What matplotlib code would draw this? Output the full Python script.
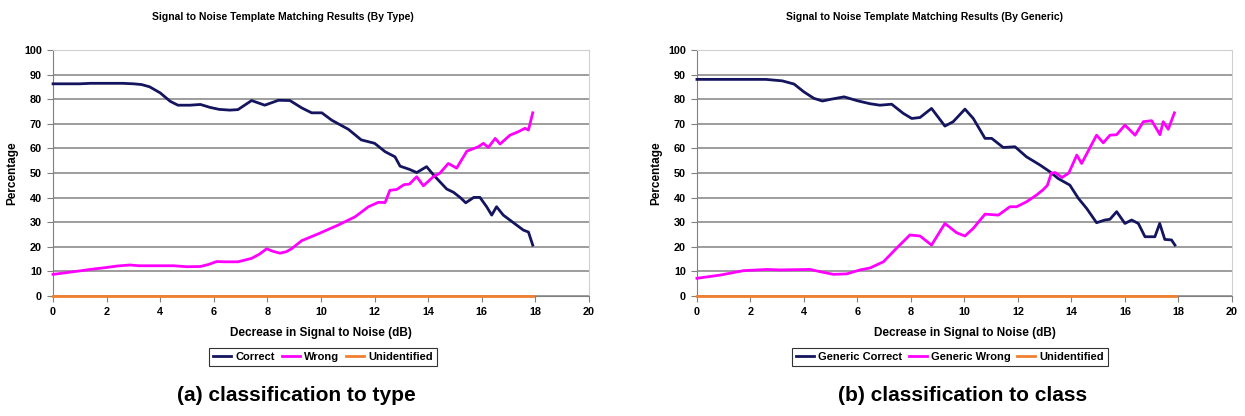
import matplotlib
matplotlib.use("Agg")
import matplotlib.pyplot as plt

plt.rcParams['font.family'] = ['Liberation Sans', 'DejaVu Sans']
plt.rcParams['font.weight'] = 'bold'

# SNR template matching, classification by type
type_correct_x = [0, 0.5, 1.0, 1.4, 2.0, 2.6, 3.0, 3.3, 3.6, 4.0, 4.37, 4.66, 5.1, 5.5,
                  5.86, 6.2, 6.6, 6.9, 7.41, 7.9, 8.41, 8.84, 9.28, 9.65, 10.03, 10.4,
                  11.02, 11.5, 12.0, 12.39, 12.76, 12.95, 13.3, 13.57, 13.94, 14.2,
                  14.69, 14.94, 15.2, 15.4, 15.7, 15.93, 16.18, 16.37, 16.55, 16.8,
                  17.18, 17.55, 17.74, 17.9]
type_correct_y = [86.3, 86.3, 86.3, 86.5, 86.5, 86.5, 86.3, 86.0, 85.1, 82.6, 79.2, 77.6,
                  77.6, 77.9, 76.7, 75.9, 75.6, 75.8, 79.5, 77.6, 79.6, 79.5, 76.5, 74.5,
                  74.5, 71.5, 67.8, 63.5, 62.1, 58.7, 56.6, 52.8, 51.5, 50.2, 52.6, 49.2,
                  43.5, 42.2, 40.0, 37.9, 40.1, 40.1, 36.3, 32.9, 36.3, 32.9, 29.8, 26.8,
                  26.0, 20.7]
type_wrong_x = [0, 0.3, 0.63, 1.0, 1.38, 2.0, 2.4, 2.87, 3.2, 3.6, 4.49, 4.99, 5.5, 5.8,
                6.1, 6.42, 6.9, 7.41, 7.7, 7.97, 8.2, 8.47, 8.7, 8.9, 9.28, 9.9, 10.65,
                11.27, 11.77, 12.14, 12.39, 12.57, 12.82, 13.1, 13.3, 13.57, 13.82, 14.19,
                14.44, 14.75, 15.06, 15.44, 15.87, 16.06, 16.24, 16.5, 16.68, 17.05,
                17.36, 17.61, 17.74, 17.9]
type_wrong_y = [8.8, 9.2, 9.7, 10.2, 10.8, 11.6, 12.2, 12.6, 12.3, 12.3, 12.3, 11.9, 12.0,
                12.8, 14.0, 13.9, 13.9, 15.3, 17.0, 19.2, 18.2, 17.4, 18.0, 19.2, 22.5,
                25.3, 28.9, 32.2, 36.3, 38.1, 38.0, 43.0, 43.3, 45.3, 45.5, 48.5, 44.8,
                48.5, 50.0, 53.9, 52.0, 58.9, 60.7, 62.1, 60.4, 64.1, 61.8, 65.4, 66.8,
                68.2, 67.5, 74.5]

# SNR template matching, classification by generic class
gen_correct_x = [0, 1.0, 2.0, 2.57, 3.19, 3.63, 4.0, 4.37, 4.69, 5.0, 5.5, 6.0, 6.47, 6.84,
                 7.28, 7.71, 8.03, 8.34, 8.77, 9.27, 9.58, 10.02, 10.33, 10.77, 11.02,
                 11.45, 11.89, 12.32, 12.82, 13.2, 13.5, 13.94, 14.26, 14.57, 14.94, 15.25,
                 15.44, 15.69, 16.0, 16.25, 16.5, 16.75, 17.12, 17.3, 17.49, 17.74, 17.87]
gen_correct_y = [88.1, 88.1, 88.1, 88.1, 87.5, 86.2, 83.0, 80.4, 79.3, 80.0, 81.0, 79.4,
                 78.2, 77.6, 78.0, 74.3, 72.2, 72.6, 76.3, 69.1, 70.9, 76.0, 72.2, 64.1,
                 64.1, 60.4, 60.7, 56.6, 53.3, 50.5, 47.8, 45.1, 39.7, 35.6, 29.8, 30.9,
                 31.2, 34.3, 29.5, 30.9, 29.5, 24.1, 24.1, 29.5, 23.0, 22.8, 20.7]
gen_wrong_x = [0, 0.87, 1.74, 2.62, 3.11, 4.23, 4.6, 5.1, 5.6, 6.1, 6.47, 6.97, 7.46, 7.96,
               8.34, 8.77, 9.27, 9.71, 10.02, 10.33, 10.77, 11.27, 11.7, 11.95, 12.32,
               12.7, 12.95, 13.1, 13.25, 13.4, 13.65, 13.9, 14.2, 14.38, 14.94, 15.19,
               15.44, 15.69, 16.0, 16.38, 16.69, 17.0, 17.31, 17.43, 17.62, 17.85]
gen_wrong_y = [7.2, 8.5, 10.3, 10.8, 10.6, 10.8, 9.9, 8.8, 9.0, 10.6, 11.4, 13.9, 19.4,
               24.8, 24.4, 20.7, 29.5, 25.7, 24.4, 27.5, 33.3, 32.9, 36.3, 36.3, 38.3,
               41.1, 43.3, 45.0, 50.0, 50.2, 48.2, 50.0, 57.3, 53.9, 65.4, 62.3, 65.4,
               65.6, 69.5, 65.4, 70.9, 71.3, 65.6, 70.9, 67.8, 74.5]

unident_x = [0, 17.9]
unident_y = [0, 0]

NAVY = '#14145f'
MAGENTA = '#ff00ff'
ORANGE = '#f08030'


def draw_panel(ax, cx, cy, wx, wy, labels, title, caption, title_x, legend_x, caption_x):
    ax.plot(unident_x, unident_y, color=ORANGE, lw=2.0, zorder=3, clip_on=False)
    ax.plot(cx, cy, color=NAVY, lw=2.0, zorder=4, clip_on=False)
    ax.plot(wx, wy, color=MAGENTA, lw=2.0, zorder=4, clip_on=False)

    ax.set_xlim(0, 20)
    ax.set_ylim(0, 100)
    ax.set_xticks(range(0, 21, 2))
    ax.set_yticks(range(0, 101, 10))
    ax.yaxis.grid(True, color='#8c8c8c', lw=1.2)
    ax.set_axisbelow(True)
    for s in ('top', 'right'):
        ax.spines[s].set_color('#d0d0d0')
    for s in ('left', 'bottom'):
        ax.spines[s].set_color('#808080')
    ax.tick_params(labelsize=7.8, length=4, color='#808080', pad=4)
    for lab in ax.get_xticklabels() + ax.get_yticklabels():
        lab.set_fontweight('bold')

    ax.set_xlabel('Decrease in Signal to Noise (dB)', fontsize=8.5, fontweight='bold',
                  labelpad=7)
    ax.set_ylabel('Percentage', fontsize=8.5, fontweight='bold', labelpad=4)

    fig = ax.figure
    fig.text(title_x, 0.958, title, fontsize=7.5, fontweight='bold', ha='center',
             va='center')
    fig.text(caption_x, 0.05, caption, fontsize=15, fontweight='bold', ha='center',
             va='center')

    handles = ax.get_lines()
    leg = fig.legend([handles[1], handles[2], handles[0]], labels, ncol=3,
                     loc='center', bbox_to_anchor=(legend_x, 0.142), fontsize=8,
                     frameon=True, fancybox=False, edgecolor='#000000',
                     handlelength=1.6, handletextpad=0.4, columnspacing=0.6,
                     borderpad=0.35, borderaxespad=0)
    leg.get_frame().set_linewidth(0.8)
    for t in leg.get_texts():
        t.set_fontweight('bold')


fig = plt.figure(figsize=(12.45, 4.16), dpi=100)
ax1 = fig.add_axes([0.0426, 0.2885, 0.4305, 0.591])
ax2 = fig.add_axes([0.5598, 0.2885, 0.4297, 0.591])

draw_panel(ax1, type_correct_x, type_correct_y, type_wrong_x, type_wrong_y,
           ['Correct', 'Wrong', 'Unidentified'],
           'Signal to Noise Template Matching Results (By Type)',
           '(a) classification to type', 283 / 1245, 323 / 1245, 296 / 1245)
draw_panel(ax2, gen_correct_x, gen_correct_y, gen_wrong_x, gen_wrong_y,
           ['Generic Correct', 'Generic Wrong', 'Unidentified'],
           'Signal to Noise Template Matching Results (By Generic)',
           '(b) classification to class', 925 / 1245, 950 / 1245, 963 / 1245)

fig.savefig('out.png', dpi=100)
